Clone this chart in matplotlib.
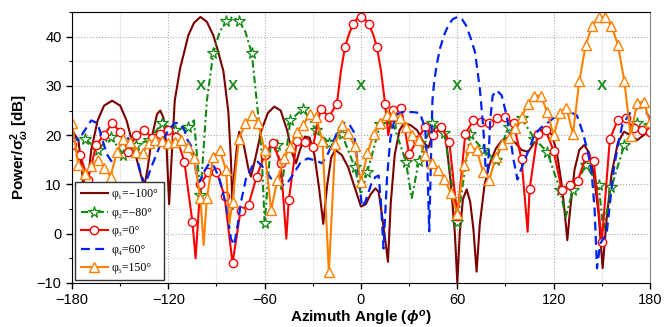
import matplotlib
matplotlib.use('Agg')
import matplotlib.pyplot as plt
from matplotlib.ticker import MultipleLocator
from matplotlib.font_manager import FontProperties

plt.rcParams['font.family'] = ['Liberation Sans', 'DejaVu Sans']
plt.rcParams['mathtext.fontset'] = 'custom'
plt.rcParams['mathtext.rm'] = 'Liberation Sans:bold'
plt.rcParams['mathtext.it'] = 'Liberation Sans:bold:italic'
plt.rcParams['mathtext.bf'] = 'Liberation Sans:bold'

# phi1 = -100 deg (dark red, no markers)
ang1 = [-180, -176, -173.5, -172, -170, -168, -164, -160, -155, -150, -146, -142,
        -138, -135, -133, -130, -127, -125, -123, -121, -119.5, -118, -116, -112.7,
        -110, -107.5, -104, -100, -96, -92, -89, -85.7, -82.6, -81, -80, -79, -77,
        -75.8, -73, -70, -68.5, -66, -62, -58, -54, -50, -46, -43, -40.5, -38, -35,
        -32, -29, -26, -23.5, -21, -18.5, -16, -12, -8, -4, 0, 3, 6, 9, 11, 13, 15,
        16.8, 18.5, 21, 24, 27, 31, 35, 39, 42, 46, 50, 53, 56, 58.5, 60, 61.5, 63.5,
        65.8, 68, 70, 72, 74, 77, 80, 84, 88, 91.5, 96, 100, 104, 107, 111, 115, 119,
        122, 125, 127, 128.5, 130, 133, 136, 139, 142, 145, 148, 150.5, 153, 156, 160,
        163.8, 168, 172, 176, 180]
val1 = [21, 19, 12, 3, 11, 17, 23, 26, 27, 26, 23, 18,
        13, 9.5, 13, 20, 24.3, 25, 23.5, 17, 6, 15, 27, 33.5,
        37, 40.3, 42.8, 44, 43, 40.3, 37, 33, 24.7, 15, 5, 12, 18.5,
        20.7, 18, 13, 11.6, 15, 21, 24.5, 25.8, 25, 21, 16.5, 14.3, 17, 19.7,
        19.5, 16, 9, 2, 10, 15.5, 17, 16, 13.5, 9.5, 5.5, 6, 8, 9.2, 8.5, 4, -1,
        -5.7, 6, 16, 21, 22.5, 22, 21, 18.5, 17.5, 21.5, 22, 19, 10, 0, -10, 0, 7,
        9, 6.5, 1, -7.7, 2, 10, 14, 17.3, 19, 19.5, 18.5, 17, 16.6, 18, 20.7, 21.5, 20,
        16.5, 10, 4, -1.3, 4, 13, 17, 18, 16.5, 12, 4, -7, 3, 12, 18.5,
        20.7, 20, 19, 20, 21]

# phi2 = -80 deg (green, stars every 8 deg)
ang2 = [-180, -172, -164, -156, -148, -140, -132, -124, -116, -108, -104, -100,
        -96, -92, -88, -84, -80, -76, -72, -68, -64, -62, -60, -56, -52, -49.5, -44,
        -36, -28, -20, -12, -4, 0, 4, 12, 20, 28, 31.6, 36, 44, 52, 60, 68, 76, 84,
        92, 100, 108, 116, 124, 127.5, 132, 140, 148, 151, 156, 164, 172, 180]
val2 = [19, 19.3, 17, 19.7, 16, 18, 19, 22.4, 21, 21.7, 23, 7.8,
        27, 36.6, 41, 43.1, 44, 43.1, 41, 36.6, 24, 17, 2.1, 19, 18, 9, 23,
        25.4, 21, 18.5, 20.3, 13.6, 8, 12.6, 22.2, 22.4, 14.6, 7.2, 14.7, 22.4, 20.5, 2.4, 20.2, 17, 15,
        21.7, 23.4, 19.3, 16.6, 8.9, 3.4, 8.9, 13.9, 9.9, 0.8, 9.5, 18, 22.4, 22]

# phi3 = 0 deg (red, circles every 5 deg)
ang3 = [-180, -175, -170, -165, -160, -155, -150, -145, -140, -135, -130, -125,
        -120, -115, -110, -105, -103, -100, -95, -90, -85, -80, -75, -70, -65, -60,
        -55, -50, -46.5, -45, -40, -35, -30, -25, -20, -15, -12.5, -10, -7.5, -5,
        -2.5, 0, 2.5, 5, 7.5, 10, 12.5, 15, 17, 20, 25, 30, 35, 40, 45, 50, 55, 60,
        65, 70, 75, 80, 85, 90, 95, 100, 103.8, 105, 110, 115, 120, 125, 130, 135,
        140, 145, 150, 155, 160, 165, 170, 175, 180]
val3 = [18, 16, 11, 18, 20, 22.4, 20.7, 16.6, 20, 21, 19.5, 20.3,
        21, 19.7, 14.6, 2.4, -5, 10, 12.6, 12.6, 7.7, -6, 4.7, 5.9, 11.6, 16,
        18.5, 14.3, -1, 6.8, 18.8, 18.7, 17.6, 25.4, 23.7, 26.4, 33, 37.8, 40.5, 42.5,
        43.6, 44, 43.6, 42.5, 40.5, 37.8, 33, 26.4, 20, 25.1, 25.6, 16.1, 19, 21.7, 20, 21.7, 18.7, 3.5,
        20.3, 23, 22.6, 22.4, 23.4, 23.7, 22.4, 15.1, 0.4, 9, 20.3, 21, 16.8, 8.9, 9.9, 10.7,
        15.6, 14.7, -1.6, 19.2, 23.1, 23.4, 21.4, 21, 20.7]

# phi4 = 60 deg (blue dashed, no markers)
ang4 = [-180, -176, -172, -168, -164, -161, -158, -155, -151, -147, -144, -140.7,
        -137, -134.5, -130, -125, -120, -116, -112.7, -110, -108, -104.8, -102.7,
        -100.7, -97, -94.5, -91.4, -88.2, -84, -81, -79, -76.8, -74.7, -71.6, -67.4,
        -64.3, -60.2, -56, -51, -46.7, -42.5, -37.4, -33, -28, -24.3, -21, -18, -13.9,
        -10, -7.7, -4.5, -2.5, -0.4, 0.6, 2.7, 6.8, 9, 11, 12.5, 14, 16.2, 18.3, 21.4,
        25.5, 31.8, 36.7, 40, 41.5, 42.5, 43.5, 44.5, 45.5, 47, 49.2, 52, 54.4, 57, 60,
        63, 65.4, 68, 71, 74, 76.2, 77.5, 78.5, 79.5, 80.5, 82, 84.5, 87.6, 90.7, 93,
        95, 97.5, 99.6, 104, 108, 112, 117, 122, 127, 131, 134.5, 138, 141, 143.5,
        145.5, 147, 149, 151, 153, 155, 157.5, 160, 162.7, 168, 174, 178, 180]
val4 = [20, 19, 21, 23, 22.4, 19, 16, 14.5, 17, 20, 19, 17,
        12, 10, 14, 18, 21, 22.5, 22.4, 21, 19, 17.3, 12.6,
        10.5, 13, 14.3, 13.6, 11.2, 5.8, -1, -2.3, 1.8, 6.5, 11.2, 13.9,
        14.6, 13.2, 11.2, 10, 9.9, 11.9, 14.6, 15.3, 14.8, 14.3, 16, 18, 21.4,
        22.5, 22.4, 20.7, 15.3, 8.5, 5.5, 6.5, 10.5, 11.5, 11.8, 6, -3, 11.2, 19.3, 24,
        24.7, 24.7, 24.5, 21.4, 12, 0.5, 14, 27, 30.5, 34, 37.6, 40.5, 42.3, 43.5, 44,
        43.5, 42.3, 40, 36.9, 29.5, 21.4, 14, 11, 16, 23, 28, 29.1, 28.1, 24, 19.5,
        15, 11, 13, 16.6, 20, 21.5, 22.7, 24, 24.7, 24.6, 24, 20.7, 17, 13,
        5, -7, -2, -1, 0, 6, 13.2, 18, 22, 24.7, 25.8, 24.5, 23.4]

# phi5 = 150 deg (orange, triangles every 4 deg)
ang5 = [-180, -176, -172, -168, -164, -160, -156, -152, -148, -144, -140, -136,
        -132, -128, -124, -120, -116, -112, -108, -104, -100, -98, -96, -92, -88,
        -84, -82, -80, -76, -72, -68, -64, -60, -56, -52, -48, -44, -40, -36, -32,
        -28, -24, -20, -16, -12, -8, -4, 0, 4, 8, 12, 16, 20, 24, 28, 32, 36, 40, 44,
        48, 52, 56, 60, 64, 68, 72, 76, 80, 84, 88, 92, 96, 100, 104, 108, 112, 116,
        120, 124, 128, 132, 136, 140, 144, 148, 152, 156, 160, 164, 168, 172, 176, 180]
val5 = [22.4, 14, 12.2, 13.8, 15, 13.4, 11.6, 16.6, 19.3, 18.7, 16.6, 16.3,
        18.5, 19, 18.8, 18.4, 18.7, 19, 17.6, 15.3, 7.2, -2.3, 7.2, 15.6, 17,
        12.9, 2, 6.5, 19.3, 22.4, 24, 22.4, 17, 4.8, 11, 15.3, 17.6, 20.7, 22, 24.2,
        23.7, 18.8, -7.8, 18.3, 22, 20.5, 17.8, 10.5, 16.3, 20.3, 22.4, 24.1, 24.1, 23.4, 21.7, 20, 19, 16, 14.3,
        12.9, 11.2, 8.2, 4.1, 13.9, 17.5, 17, 12.6, 11, 15.6, 18.3, 19.5, 21.5, 23.7, 26.4, 28, 28, 24.7,
        20, 24.5, 25.6, 20.2, 31, 38.4, 42.2, 44, 44, 42.2, 38.4, 31, 19.8, 26.6, 26.8, 22.7]

# beam directions marked with X at 30 dB
x_marks = [-100, -80, 0, 60, 150]
x_level = 30

labels = ['φ₁=−100°', 'φ₂=−80°', 'φ₃=0°', 'φ₄=60°', 'φ₅=150°']

fig = plt.figure(figsize=(6.64, 3.27), dpi=100)
ax = fig.add_axes([0.1084, 0.1346, 0.8705, 0.8287])
ax.set_axisbelow(True)

ax.plot(ang1, val1, color='#7b0000', lw=1.5, label=labels[0])
ax.plot(ang2, val2, color='#118811', lw=1.5, dashes=[3.5, 1.5, 1, 1.5],
        marker='*', ms=8.5, mfc='white', mec='#118811', mew=0.9,
        markevery=[(a - 4) % 8 == 0 for a in ang2], label=labels[1])
ax.plot(ang3, val3, color='#ff0000', lw=1.5, marker='o', ms=6, mfc='white',
        mec='#ff0000', mew=1, markevery=[a % 5 == 0 for a in ang3],
        label=labels[2])
ax.plot(ang4, val4, color='#0022ee', lw=1.6, dashes=[4, 2.4], label=labels[3])
ax.plot(ang5, val5, color='#ff8000', lw=1.5, marker='^', ms=6.5, mfc='white',
        mec='#ff8000', mew=1, markevery=[a % 4 == 0 for a in ang5],
        label=labels[4])

for a in x_marks:
    ax.text(a, x_level, 'X', color='#1a8a1a', fontsize=11, fontweight='bold',
            ha='center', va='center')

ax.set_xlim(-180, 180)
ax.set_ylim(-10, 45)
ax.xaxis.set_major_locator(MultipleLocator(60))
ax.xaxis.set_minor_locator(MultipleLocator(30))
ax.yaxis.set_major_locator(MultipleLocator(10))
ax.yaxis.set_minor_locator(MultipleLocator(5))
ax.tick_params(which='major', direction='out', length=4, width=1, labelsize=10.5)
ax.tick_params(which='minor', direction='out', length=2.5, width=0.8)
ax.grid(which='major', ls=':', color='#aaaaaa', lw=0.8)
ax.grid(which='minor', ls='-', color='#ececec', lw=0.8)
ax.spines['right'].set_color('#888888')

ax.set_xlabel(r'Azimuth Angle ($\phi^o$)', fontsize=11, fontweight='bold', labelpad=1)
ax.set_ylabel(r'Power/$\mathrm{\sigma}^2_\omega$ [dB]', fontsize=11,
              fontweight='bold', labelpad=4)

leg = ax.legend(loc='lower left', bbox_to_anchor=(0.005, 0.01), borderaxespad=0,
                prop=FontProperties(family=['Liberation Serif', 'DejaVu Serif'], size=8.5),
                handlelength=2.3, handletextpad=0.3, labelspacing=0.55,
                borderpad=0.5, fancybox=False, framealpha=1, edgecolor='#333333')
leg.get_frame().set_linewidth(1)

plt.savefig('out.png', dpi=100)
